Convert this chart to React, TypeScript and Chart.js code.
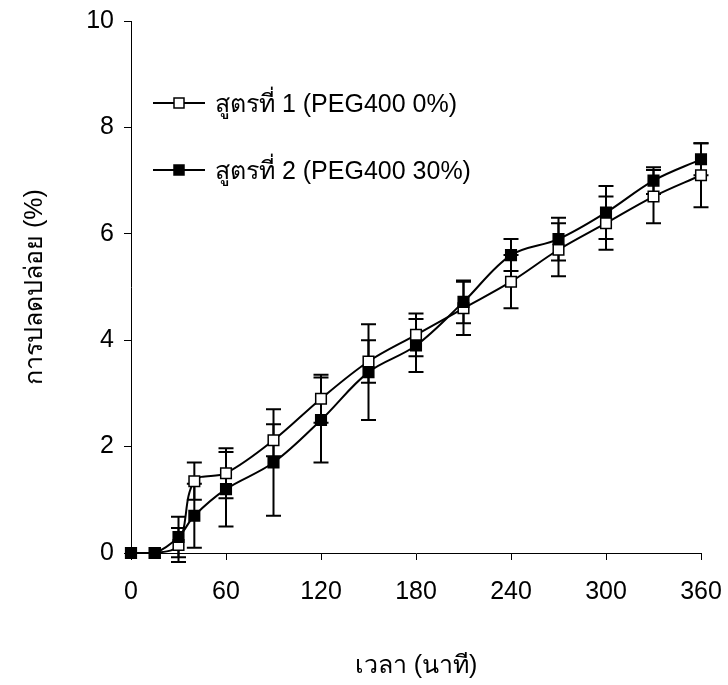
import { useEffect, useRef } from "react";
import { Chart, registerables } from "chart.js";

Chart.register(...registerables);

const times = [0, 15, 30, 40, 60, 90, 120, 150, 180, 210, 240, 270, 300, 330, 360];
const f1Values = [0, 0, 0.15, 1.35, 1.5, 2.12, 2.9, 3.6, 4.1, 4.6, 5.1, 5.7, 6.2, 6.7, 7.1];
const f1Errors = [0, 0, 0.32, 0.35, 0.47, 0.3, 0.45, 0.4, 0.4, 0.5, 0.5, 0.5, 0.5, 0.5, 0.6];
const f2Values = [0, 0, 0.3, 0.7, 1.2, 1.7, 2.5, 3.4, 3.9, 4.72, 5.6, 5.9, 6.4, 7.0, 7.4];
const f2Errors = [0, 0, 0.38, 0.6, 0.7, 1.0, 0.8, 0.9, 0.5, 0.4, 0.3, 0.4, 0.5, 0.25, 0.3];
const seriesLabels = ["สูตรที่ 1 (PEG400 0%)", "สูตรที่ 2 (PEG400 30%)"];
const xTitle = "เวลา (นาที)";
const yTitle = "การปลดปล่อย (%)";
const xMin = 0;
const xMax = 360;
const xStep = 60;
const yMin = 0;
const yMax = 10;
const yStep = 2;

const FONT = "'Liberation Sans', Arial, 'Noto Sans', sans-serif";

const errorBarPlugin = {
  id: "errorBars",
  beforeDatasetsDraw(chart: any) {
    const ctx = chart.ctx;
    const xs = chart.scales.x;
    const ys = chart.scales.y;
    const sets = [
      { v: f1Values, e: f1Errors },
      { v: f2Values, e: f2Errors },
    ];
    ctx.save();
    ctx.strokeStyle = "#000";
    ctx.lineWidth = 2;
    const cap = 7.5;
    sets.forEach((s) => {
      times.forEach((t, i) => {
        const err = s.e[i];
        if (!err) return;
        const px = xs.getPixelForValue(t);
        const top = ys.getPixelForValue(s.v[i] + err);
        const bot = ys.getPixelForValue(s.v[i] - err);
        ctx.beginPath();
        ctx.moveTo(px, top);
        ctx.lineTo(px, bot);
        ctx.moveTo(px - cap, top);
        ctx.lineTo(px + cap, top);
        ctx.moveTo(px - cap, bot);
        ctx.lineTo(px + cap, bot);
        ctx.stroke();
      });
    });
    ctx.restore();
  },
};

const legendPlugin = {
  id: "customLegend",
  afterDraw(chart: any) {
    const ctx = chart.ctx;
    const items = [
      { label: seriesLabels[0], fill: "#fff", y: 103 },
      { label: seriesLabels[1], fill: "#000", y: 170 },
    ];
    ctx.save();
    items.forEach((it) => {
      ctx.strokeStyle = "#000";
      ctx.lineWidth = 2;
      ctx.beginPath();
      ctx.moveTo(153, it.y);
      ctx.lineTo(205, it.y);
      ctx.stroke();
      ctx.fillStyle = it.fill;
      ctx.fillRect(174, it.y - 5, 10, 10);
      ctx.lineWidth = 1.5;
      ctx.strokeRect(174, it.y - 5, 10, 10);
      ctx.fillStyle = "#000";
      ctx.font = `25px ${FONT}`;
      ctx.textBaseline = "middle";
      ctx.textAlign = "left";
      ctx.fillText(it.label, 215, it.y + 2);
    });
    ctx.restore();
  },
};

export default function App() {
  const ref = useRef<HTMLCanvasElement | null>(null);

  useEffect(() => {
    document.body.style.margin = "0";
    const canvas = ref.current;
    if (!canvas) return;
    const mk = (vals: number[]) => times.map((t, i) => ({ x: t, y: vals[i] }));
    const chart = new Chart(canvas, {
      type: "line",
      data: {
        datasets: [
          {
            label: seriesLabels[1],
            data: mk(f2Values),
            borderColor: "#000",
            borderWidth: 2,
            backgroundColor: "#000",
            pointStyle: "rect",
            pointRadius: 7.5,
            pointBorderWidth: 1.5,
            pointBorderColor: "#000",
            pointBackgroundColor: "#000",
            tension: 0.35,
            clip: false as any,
          },
          {
            label: seriesLabels[0],
            data: mk(f1Values),
            borderColor: "#000",
            borderWidth: 2,
            backgroundColor: "#fff",
            pointStyle: "rect",
            pointRadius: 7.5,
            pointBorderWidth: 1.5,
            pointBorderColor: "#000",
            pointBackgroundColor: "#fff",
            tension: 0.35,
            clip: false as any,
          },
        ],
      },
      options: {
        responsive: false,
        animation: false,
        layout: { padding: { left: 0, top: 21, right: 27, bottom: 0 } },
        plugins: {
          legend: { display: false },
          tooltip: { enabled: false },
        },
        scales: {
          x: {
            type: "linear",
            min: xMin,
            max: xMax,
            ticks: {
              stepSize: xStep,
              color: "#000",
              font: { family: FONT, size: 25 },
              padding: 17,
              maxRotation: 0,
            },
            grid: {
              drawOnChartArea: false,
              drawTicks: true,
              tickLength: 7,
              color: "#000",
              lineWidth: 1,
            },
            border: { color: "#000", width: 1 },
            title: {
              display: true,
              text: xTitle,
              color: "#000",
              font: { family: FONT, size: 25 },
              padding: { top: 0, bottom: 4 },
            },
            afterFit: (s: any) => {
              s.height = 685 - 553;
              s.paddingLeft = 0;
              s.paddingRight = 0;
            },
          },
          y: {
            type: "linear",
            min: yMin,
            max: yMax,
            ticks: {
              stepSize: yStep,
              color: "#000",
              font: { family: FONT, size: 25 },
              padding: 10,
            },
            grid: {
              drawOnChartArea: false,
              drawTicks: true,
              tickLength: 7,
              color: "#000",
              lineWidth: 1,
            },
            border: { color: "#000", width: 1 },
            title: {
              display: true,
              text: yTitle,
              color: "#000",
              font: { family: FONT, size: 25 },
              padding: { top: 20, bottom: 0 },
            },
            afterFit: (s: any) => {
              s.width = 131;
              s.paddingTop = 0;
              s.paddingBottom = 0;
            },
          },
        },
      },
      plugins: [errorBarPlugin, legendPlugin],
    });
    return () => chart.destroy();
  }, []);

  return (
    <div style={{ width: 728, height: 685, background: "#fff" }}>
      <canvas ref={ref} width={728} height={685} style={{ display: "block" }} />
    </div>
  );
}
